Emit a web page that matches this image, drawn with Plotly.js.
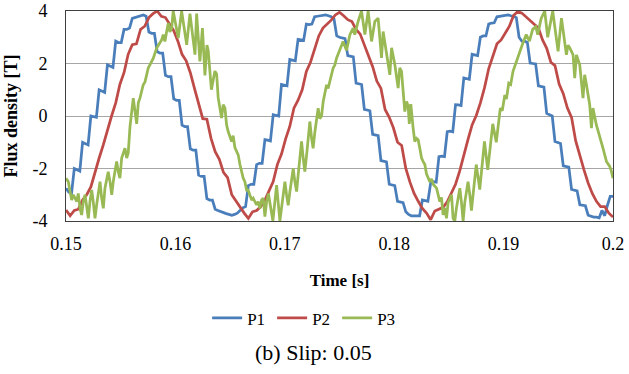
<!DOCTYPE html>
<html>
<head>
<meta charset="utf-8">
<script src="https://cdn.plot.ly/plotly-3.0.1.min.js"></script>
<style>html,body{margin:0;padding:0;background:#fff;}</style>
</head>
<body>
<div id="chart" style="width:629px;height:374px"></div>
<script>
// Time axis
const T_START = 0.15;
const T_END = 0.2;
const X_TICKS = [0.15, 0.16, 0.17, 0.18, 0.19, 0.2];
const X_TICK_TEXT = ['0.15', '0.16', '0.17', '0.18', '0.19', '0.2'];
const Y_TICKS = [-4, -2, 0, 2, 4];
const Y_TICK_TEXT = ['-4', '-2', '0', '2', '4'];

// P1: sampled uniformly, 199 samples from 0.15 to 0.2
const P1_DT = (T_END - T_START) / 198;
const P1 = [
-2.75,-2.9,-2.95, -2.0,-2.05,-2.1, -1.0,-1.05,-1.1, 0.0,-0.02,-0.05,
1.0,0.95,0.9, 1.95,1.9,1.85, 2.85,2.8,2.8, 3.3,3.3,3.35,
3.72,3.75,3.78, 3.82,3.85,3.8, 3.2,3.15,3.15, 2.45,2.4,2.4,
1.55,1.5,1.5, 0.65,0.6,0.6, -0.35,-0.4,-0.4, -1.25,-1.3,-1.3,
-2.25,-2.3,-2.3, -3.15,-3.2,-3.2, -3.55,-3.6,-3.65, -3.7,-3.72,-3.75,
-3.78,-3.75,-3.7, -3.6,-3.5,-3.45, -2.65,-2.6,-2.6, -1.85,-1.8,-1.8,
-0.9,-0.92,-0.95, 0.05,0.02,0.0, 1.2,1.17,1.15, 2.15,2.12,2.1,
2.92,2.9,2.88, 3.5,3.48,3.5, 3.78,3.8,3.82, 3.85,3.85,3.82,
3.78,3.7,3.05, 3.0,2.98,2.95, 2.3,2.28,2.25, 1.25,1.22,1.2,
0.25,0.22,0.2, -0.7,-0.72,-0.75, -1.7,-1.72,-1.75, -2.6,-2.63,-2.65,
-3.25,-3.27,-3.3, -3.65,-3.75,-3.8, -3.8,-3.82,-3.8, -3.2,-3.22,-3.25,
-2.55,-2.5,-2.52, -1.55,-1.53,-1.55, -0.6,-0.58,-0.6, 0.43,0.42,0.4,
1.45,1.42,1.4, 2.35,2.33,2.3, 3.0,3.05,3.05, 3.5,3.54,3.55,
3.78,3.8,3.8, 3.82,3.85,3.82, 3.8,3.75,3.0, 2.85,2.85,2.8,
2.02,2.0,1.98, 1.15,1.13,1.1, 0.1,0.05,0.0, -0.97,-1.0,-1.05,
-1.9,-1.92,-1.95, -2.8,-2.82,-2.85, -3.38,-3.4,-3.42, -3.78,-3.82,-3.85,
-3.85,-3.88,-3.6, -3.8,-3.4,-3.06, -3.06
];

// P2: sampled uniformly, 133 samples from 0.15 to 0.2
const P2_DT = (T_END - T_START) / 132;
const P2 = [
-3.58,-3.8,-3.6,-3.55,-3.2,-3.0,-2.7,-2.1,-1.6,-1.1,
-0.5,0.0,0.5,1.2,1.65,2.35,2.72,2.75,3.3,3.42,
3.75,3.9,4.0,3.8,3.75,3.5,3.25,2.85,2.35,2.1,
1.65,1.05,0.42,-0.1,-0.12,-0.85,-1.36,-1.65,-2.15,-2.35,
-3.0,-3.25,-3.45,-3.7,-3.9,-3.65,-3.6,-3.45,-3.2,-2.85,
-2.5,-1.85,-1.45,-0.87,-0.4,0.3,0.6,1.0,1.7,2.05,
2.52,3.05,3.35,3.5,3.65,3.85,3.95,3.82,3.67,3.6,
3.3,3.12,2.7,2.3,1.88,1.33,1.05,0.25,-0.05,-0.45,
-1.0,-1.12,-2.0,-2.52,-2.95,-3.25,-3.52,-3.7,-3.95,-3.62,
-3.55,-3.48,-3.27,-2.95,-2.6,-2.1,-1.45,-0.9,-0.34,0.02,
0.5,1.08,1.8,2.3,2.75,2.9,3.15,3.42,3.83,3.98,
3.92,3.78,3.66,3.52,3.35,2.9,2.58,2.05,1.92,1.22,
0.85,0.3,-0.05,-0.95,-1.55,-2.05,-2.55,-2.95,-3.25,-3.45,
-3.45,-3.7,-3.85
];

// P3: digitised peaks and troughs (time, value)
const P3_T = [
0.15,0.15021,0.15037,0.15052,0.15067,0.15082,0.15098,0.15112,0.15128,0.15143,
0.15158,0.15174,0.15189,0.15204,0.15219,0.15235,0.15249,0.15265,0.1528,0.15311,
0.15326,0.15341,0.15356,0.15386,0.15402,0.15418,0.15432,0.15463,0.15478,0.15493,
0.15509,0.15539,0.15555,0.15569,0.15585,0.15615,0.15646,0.15661,0.15676,0.15706,
0.15722,0.15752,0.15767,0.15798,0.15829,0.15859,0.15874,0.15889,0.15904,0.1592,
0.15935,0.1595,0.15966,0.1598,0.16026,0.16057,0.16103,0.16133,0.16179,0.16194,
0.16224,0.16247,0.1627,0.16288,0.163,0.16329,0.16361,0.16377,0.16391,0.16422,
0.16437,0.16453,0.16468,0.16483,0.16514,0.16528,0.16544,0.16574,0.1659,0.1662,
0.16635,0.16651,0.16665,0.16697,0.16711,0.16742,0.16757,0.16772,0.16788,0.16803,
0.16818,0.16834,0.1685,0.16891,0.16925,0.16955,0.16971,0.17001,0.17016,0.17031,
0.17046,0.17077,0.17092,0.17108,0.17122,0.17153,0.17168,0.17183,0.17199,0.17229,
0.17245,0.17259,0.17275,0.17305,0.1732,0.17336,0.17351,0.17382,0.17396,0.17412,
0.17442,0.17458,0.17473,0.17503,0.17533,0.17564,0.17595,0.17625,0.1764,0.1767,
0.17701,0.17732,0.17762,0.17793,0.17823,0.17853,0.17884,0.17899,0.1793,0.1796,
0.17976,0.18006,0.18036,0.18051,0.18067,0.18097,0.18113,0.18127,0.18138,0.18152,
0.18173,0.18188,0.18204,0.18219,0.18234,0.1825,0.18264,0.1828,0.18295,0.18325,
0.18341,0.18356,0.18387,0.18401,0.18417,0.18432,0.18447,0.18462,0.18478,0.18493,
0.18524,0.18538,0.18554,0.18569,0.186,0.18615,0.1863,0.18645,0.18675,0.18691,
0.18706,0.18721,0.1875,0.18767,0.18782,0.18825,0.18855,0.18901,0.18933,0.1897,
0.18988,0.19011,0.19026,0.19047,0.19065,0.19086,0.19118,0.19148,0.19178,0.19207,
0.19236,0.19266,0.19294,0.19312,0.19342,0.19376,0.19403,0.19449,0.19498,0.19529,
0.19574,0.19589,0.19604,0.19635,0.1965,0.19666,0.19696,0.19726,0.19741,0.19757,
0.19787,0.19803,0.19817,0.19848,0.19879,0.19909,0.1994,0.1997,0.19985,0.2
];
const P3 = [
-2.37,-2.5,-2.88,-3.2,-3.0,-3.13,-3.26,-2.95,-3.52,-3.77,
-3.26,-3.0,-3.39,-3.9,-3.26,-2.82,-3.26,-3.9,-3.39,-2.5,
-3.13,-3.52,-2.75,-2.12,-2.5,-3.0,-2.5,-1.73,-2.12,-2.37,
-1.6,-1.23,-1.6,-1.4,-0.4,0.68,-0.3,0.5,0.68,1.19,
1.3,1.83,1.95,2.2,2.59,2.78,2.9,3.1,2.84,3.22,
3.54,3.2,3.35,4.0,2.97,4.0,2.71,3.9,2.34,3.9,
2.08,3.35,1.55,2.7,2.5,1.0,1.71,1.6,0.7,-0.08,
0.43,0.3,-0.34,-0.6,-0.97,-0.75,-1.2,-1.48,-1.85,-2.37,
-2.5,-2.82,-2.82,-3.2,-3.13,-3.39,-3.26,-3.52,-3.2,-3.13,
-3.83,-3.26,-2.95,-4.0,-2.63,-4.0,-3.4,-2.5,-3.0,-3.4,
-2.9,-2.0,-2.5,-2.88,-2.25,-0.97,-1.6,-2.12,-1.5,-0.21,
-0.85,-1.23,-0.6,0.3,-0.1,0.0,0.55,1.19,1.05,1.3,
1.83,1.95,2.2,2.52,2.84,2.5,3.1,3.35,3.1,3.6,
4.0,3.1,4.0,2.84,3.6,3.73,2.21,3.22,2.46,1.57,
2.6,1.95,1.06,1.83,1.7,0.17,0.55,0.4,-0.3,0.45,
-0.46,-0.97,-0.85,-0.9,-1.23,-1.6,-1.73,-1.85,-2.2,-2.5,
-2.4,-2.6,-2.75,-3.0,-3.26,-3.1,-3.77,-3.5,-3.9,-3.3,
-3.0,-3.9,-4.0,-3.5,-2.75,-3.3,-4.0,-3.3,-2.5,-3.0,
-3.6,-3.0,-1.85,-2.35,-2.8,-0.97,-2.05,-0.3,-1.0,0.3,
0.2,0.8,0.65,1.25,1.2,1.7,2.1,2.5,2.8,3.1,
2.85,3.3,3.4,3.1,3.7,4.0,3.0,4.0,2.46,3.73,
2.33,2.7,2.6,2.33,1.44,2.33,1.95,0.68,1.57,1.2,
0.43,-0.46,0.3,-0.34,-0.85,-1.23,-1.73,-1.92,-2.1,-2.37
];

const SERIES_NAMES = ['P1', 'P2', 'P3'];
const COLORS = ['#4A7EBB', '#BE4B48', '#98B954'];

const FONT = '"Liberation Serif", "Times New Roman", serif';

const traces = [
  {type: 'scatter', mode: 'lines', name: SERIES_NAMES[0], x0: T_START, dx: P1_DT, y: P1,
   line: {color: COLORS[0], width: 2.75}},
  {type: 'scatter', mode: 'lines', name: SERIES_NAMES[1], x0: T_START, dx: P2_DT, y: P2,
   line: {color: COLORS[1], width: 2.75}},
  {type: 'scatter', mode: 'lines', name: SERIES_NAMES[2], x: P3_T, y: P3,
   line: {color: COLORS[2], width: 2.75}}
];

const layout = {
  width: 629, height: 374,
  margin: {l: 66, r: 16, t: 11, b: 153, pad: 0},
  paper_bgcolor: '#ffffff', plot_bgcolor: '#ffffff',
  font: {family: FONT, size: 18, color: '#000000'},
  showlegend: true,
  legend: {
    orientation: 'h', x: 0.258, xanchor: 'left', y: -0.464, yanchor: 'middle',
    font: {family: FONT, size: 17, color: '#000'},
    entrywidth: 20, entrywidthmode: 'pixels', itemwidth: 30,
    bgcolor: 'rgba(0,0,0,0)', borderwidth: 0
  },
  xaxis: {
    range: [T_START, T_END],
    tickmode: 'array', tickvals: X_TICKS, ticktext: X_TICK_TEXT,
    ticks: '', ticklabelstandoff: 6,
    showgrid: false, zeroline: false,
    showline: true, mirror: true, linecolor: '#404040', linewidth: 1,
    tickfont: {family: FONT, size: 18, color: '#000'},
    title: {text: '<b>Time [s]</b>', font: {family: FONT, size: 17, color: '#000'}, standoff: 21}
  },
  yaxis: {
    range: [-4, 4],
    tickmode: 'array', tickvals: Y_TICKS, ticktext: Y_TICK_TEXT,
    ticks: '', ticklabelstandoff: 14,
    showgrid: true, gridcolor: '#a6a6a6', gridwidth: 1, zeroline: false,
    showline: true, mirror: true, linecolor: '#404040', linewidth: 1,
    tickfont: {family: FONT, size: 18, color: '#000'},
    title: {text: '<b>Flux density [T]</b>', font: {family: FONT, size: 18, color: '#000'}, standoff: 10}
  },
  annotations: [{
    text: '(b) Slip: 0.05', xref: 'paper', yref: 'paper',
    x: 0.452, y: -0.626, xanchor: 'center', yanchor: 'middle',
    showarrow: false, font: {family: FONT, size: 22, color: '#000'}
  }]
};

Plotly.newPlot('chart', traces, layout, {staticPlot: true, displayModeBar: false});
</script>
</body>
</html>
